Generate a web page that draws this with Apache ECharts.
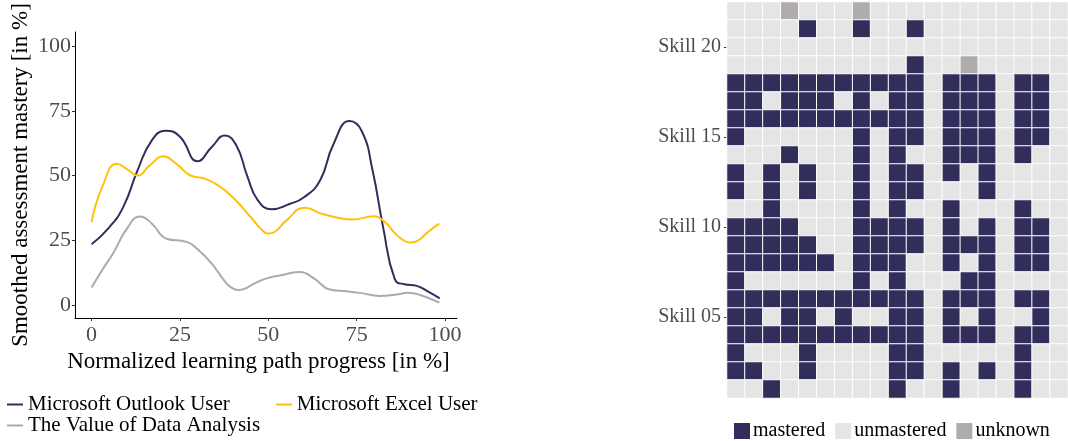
<!DOCTYPE html>
<html><head><meta charset="utf-8">
<script src="https://cdn.jsdelivr.net/npm/echarts@6/dist/echarts.min.js"></script>
<style>html,body{margin:0;padding:0;background:#fff}#c{width:1068px;height:441px}</style>
</head><body><div id="c"></div>
<script>
// ---------- Line chart data ([progress %, mastery %]) ----------
const outlookUser = [[0,23.5],[5,30],[9,38],[13,52],[17,63.5],[21,67.3],[25,65],[30,55.5],[34,61],[37.7,65.4],[41,61.5],[44,50],[47,40.5],[51,37],[56,39],[60,41.5],[64.6,48],[68.4,62],[73,71],[76.5,67],[79.5,52],[82.5,30],[85.8,10],[88.5,8],[92,7.4],[95.5,5],[98.5,2.6]];
const excelUser = [[0,32],[3,45.5],[7.2,54.5],[10,52.5],[13,50],[16.5,54],[20.3,57.4],[24,54.5],[28,50],[32,48.8],[36,46],[40,41.5],[45,34],[48,29.3],[50,27.6],[52,28.4],[55,32.5],[60.4,37.6],[65,35.3],[70,33.6],[74,33],[79.7,34.3],[83,32],[86,27.5],[88.8,24.6],[90.6,24.1],[92.5,25],[95,28],[98.4,31.4]];
const valueOfDataAnalysis = [[0,6.8],[3,13.5],[6.1,20],[10,29.5],[13.7,34.2],[17,31.5],[21.2,25.6],[26.9,24.4],[30,21.5],[34,16],[37.5,9.5],[39.5,6.8],[41.5,5.8],[43.5,6.4],[45.5,7.9],[49.5,10.3],[54,11.6],[59,12.8],[63,10.2],[67.4,6],[72,5.3],[76,4.7],[81.6,3.5],[86,4],[89.5,4.7],[93,3.9],[98.4,0.9]];
const seriesNames = ['Microsoft Outlook User','Microsoft Excel User','The Value of Data Analysis'];
const xTicks = [0,25,50,75,100];
const yTicks = [0,25,50,75,100];

// ---------- Heatmap data (rows: Skill 22 at top down to Skill 01) ----------
// M = mastered, U = unmastered, X = unknown
const skillRows = [
  "UUUXUUUXUUUUUUUUUUU", // 22
  "UUUUMUUMUUMUUUUUUUU", // 21
  "UUUUUUUUUUUUUUUUUUU", // 20
  "UUUUUUUUUUMUUXUUUUU", // 19
  "MMMMMMMMMMMUMMMUMMU", // 18
  "MMUMMMUMUMMUMMMUMMU", // 17
  "MMMMMMMMMMMUMMMUMMU", // 16
  "MUUUUUUMUMMUMMMUMMU", // 15
  "UUUMUUUMUMUUMMMUMUU", // 14
  "MUMUMUUMUMMUMUMUUUU", // 13
  "MUMUMUUMUMMUUUMUUUU", // 12
  "UUMUUUUMUMUUMUUUMUU", // 11
  "MMMMUUUMMMMUMUMUMMU", // 10
  "MMMMMUUMMMMUMMMUMMU", // 09
  "MMMMMMUMMMUUMUMUMMU", // 08
  "MUUUUUUMUMUUUMMUUUU", // 07
  "MMMMMMMMMMMUMMMUMMU", // 06
  "MMUMMUMUUMMUMUMUUMU", // 05
  "MMMMMMMMMMMUMMMUMMU", // 04
  "MUUUMUUUUMMUUUUUMUU", // 03
  "MMUUMUUUUMMUMUMUMUU", // 02
  "UUMUUUUUUMUUMUUUMUU"  // 01
];
const skillLabels = ["Skill 01","Skill 02","Skill 03","Skill 04","Skill 05","Skill 06","Skill 07","Skill 08","Skill 09","Skill 10","Skill 11","Skill 12","Skill 13","Skill 14","Skill 15","Skill 16","Skill 17","Skill 18","Skill 19","Skill 20","Skill 21","Skill 22"];
const shownSkillLabels = ["Skill 05","Skill 10","Skill 15","Skill 20"];
const statusNames = ['mastered','unmastered','unknown'];
const statusCodes = {M:0, U:1, X:2};

const FONT = 'Liberation Serif';
const navy = '#322e5b', gold = '#ffc20a', grey = '#ababab';

const nCols = skillRows[0].length;
const colCats = [];
for (let c = 0; c < nCols; c++) colCats.push('c' + (c + 1));
const heatData = [];
skillRows.forEach((row, i) => {
  const yi = skillRows.length - 1 - i;
  for (let c = 0; c < row.length; c++) heatData.push([c, yi, statusCodes[row[c]]]);
});

const chart = echarts.init(document.getElementById('c'), null, {renderer: 'canvas'});
chart.setOption({
  animation: false,
  backgroundColor: '#fff',
  grid: [
    {left: 75, top: 32, width: 382, height: 286, containLabel: false},
    {left: 727, top: 2, width: nCols * 18, height: skillRows.length * 18, containLabel: false}
  ],
  xAxis: [
    {
      type: 'value', gridIndex: 0, min: -4.7, max: 103.4,
      axisLine: {show: true, onZero: false, lineStyle: {color: '#000', width: 1}},
      axisTick: {show: true, length: 3, customValues: xTicks, lineStyle: {color: '#333'}},
      axisLabel: {customValues: xTicks, margin: 6, fontFamily: FONT, fontSize: 22, color: '#4d4d4d'},
      splitLine: {show: false},
      name: 'Normalized learning path progress [in %]', nameLocation: 'middle', nameGap: 27,
      nameTextStyle: {fontFamily: FONT, fontSize: 23, color: '#000', padding: [0, 15, 0, 0]}
    },
    {type: 'category', gridIndex: 1, data: colCats, show: false}
  ],
  yAxis: [
    {
      type: 'value', gridIndex: 0, min: -5, max: 105.4,
      axisLine: {show: true, onZero: false, lineStyle: {color: '#000', width: 1}},
      axisTick: {show: true, length: 3, customValues: yTicks, lineStyle: {color: '#333'}},
      axisLabel: {customValues: yTicks, margin: 4, fontFamily: FONT, fontSize: 22, color: '#4d4d4d'},
      splitLine: {show: false},
      name: 'Smoothed assessment mastery [in %]', nameLocation: 'middle', nameGap: 43, nameRotate: 90,
      nameTextStyle: {fontFamily: FONT, fontSize: 23, color: '#000'}
    },
    {
      type: 'category', gridIndex: 1, data: skillLabels,
      axisLine: {show: false},
      axisTick: {show: true, length: 3, alignWithLabel: true,
        interval: (i, v) => shownSkillLabels.indexOf(v) >= 0, lineStyle: {color: '#333'}},
      axisLabel: {interval: (i, v) => shownSkillLabels.indexOf(v) >= 0, margin: 6,
        fontFamily: FONT, fontSize: 20, color: '#4d4d4d'},
      splitLine: {show: false}
    }
  ],
  legend: [
    {data: [seriesNames[0], seriesNames[1]], left: 7, top: 394, padding: 0, orient: 'horizontal',
      icon: 'rect', itemWidth: 16, itemHeight: 2, itemGap: 46, selectedMode: false,
      textStyle: {fontFamily: FONT, fontSize: 21, color: '#000'}},
    {data: [seriesNames[2]], left: 7, top: 415, padding: 0, orient: 'horizontal',
      icon: 'rect', itemWidth: 16, itemHeight: 2, selectedMode: false,
      textStyle: {fontFamily: FONT, fontSize: 21, color: '#000'}}
  ],
  visualMap: {
    type: 'piecewise', seriesIndex: 3, orient: 'horizontal', padding: 0,
    left: 734, top: 421, itemWidth: 16, itemHeight: 16, itemGap: 10, textGap: 3,
    itemSymbol: 'rect', selectedMode: false, hoverLink: false,
    pieces: [
      {value: 0, label: statusNames[0], color: navy},
      {value: 1, label: statusNames[1], color: '#e5e5e5'},
      {value: 2, label: statusNames[2], color: '#b0acac'}
    ],
    textStyle: {fontFamily: FONT, fontSize: 20, color: '#000'}
  },
  series: [
    {name: seriesNames[0], type: 'line', xAxisIndex: 0, yAxisIndex: 0, data: outlookUser,
      smooth: 0.5, showSymbol: false, color: navy, lineStyle: {width: 2, color: navy}},
    {name: seriesNames[1], type: 'line', xAxisIndex: 0, yAxisIndex: 0, data: excelUser,
      smooth: 0.5, showSymbol: false, color: gold, lineStyle: {width: 2, color: gold}},
    {name: seriesNames[2], type: 'line', xAxisIndex: 0, yAxisIndex: 0, data: valueOfDataAnalysis,
      smooth: 0.5, showSymbol: false, color: grey, lineStyle: {width: 2, color: grey}},
    {name: 'skills', type: 'heatmap', xAxisIndex: 1, yAxisIndex: 1, data: heatData,
      itemStyle: {borderColor: '#fff', borderWidth: 1}, emphasis: {disabled: true}}
  ]
});
</script></body></html>
